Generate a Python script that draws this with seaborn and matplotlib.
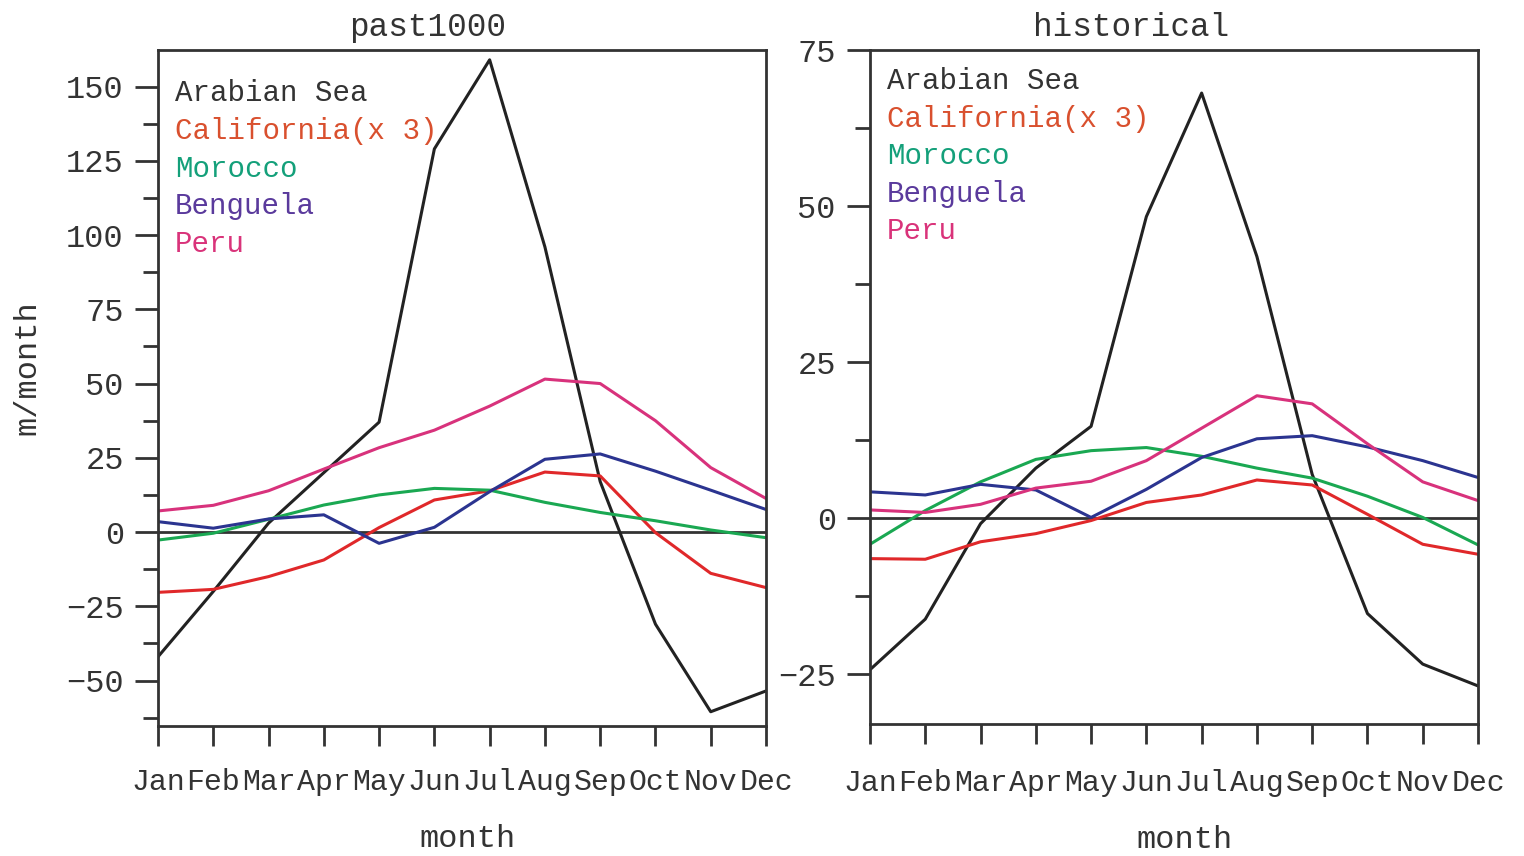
import matplotlib
matplotlib.use("Agg")
import matplotlib.pyplot as plt
import seaborn as sns
import pandas as pd
import numpy as np
from matplotlib.ticker import MultipleLocator

months = ["Jan", "Feb", "Mar", "Apr", "May", "Jun", "Jul", "Aug", "Sep", "Oct", "Nov", "Dec"]
regions = ["Arabian Sea", "California", "Morocco", "Benguela", "Peru"]
legend_labels = ["Arabian Sea", "California(x 3)", "Morocco", "Benguela", "Peru"]

# past1000
p_arabian = [-42, -20, 3, 20, 37, 129, 159, 96, 17, -31, -60.5, -53.5]
p_california = [-20.3, -19.3, -15, -9.4, 1.5, 10.8, 13.9, 20.2, 18.9, -0.2, -13.9, -18.7]
p_morocco = [-2.7, -0.4, 4.3, 9.1, 12.5, 14.7, 14.1, 10, 6.6, 3.8, 0.7, -1.9]
p_benguela = [3.5, 1.3, 4.4, 5.8, -3.8, 1.6, 13.6, 24.5, 26.3, 20.5, 14.1, 7.6]
p_peru = [7.1, 9.0, 13.9, 21.2, 28.4, 34.3, 42.4, 51.5, 50, 37.5, 21.7, 11.3]

# historical
h_arabian = [-24.3, -16.2, -0.9, 8.0, 14.7, 48.3, 68.1, 41.9, 7, -15.3, -23.4, -26.9]
h_california = [-6.5, -6.6, -3.8, -2.5, -0.4, 2.5, 3.7, 6.1, 5.3, 0.6, -4.2, -5.8]
h_morocco = [-4.2, 1.2, 5.8, 9.4, 10.8, 11.3, 9.9, 8.0, 6.4, 3.5, 0.1, -4.3]
h_benguela = [4.2, 3.7, 5.4, 4.5, 0.1, 4.6, 9.7, 12.7, 13.2, 11.4, 9.2, 6.5]
h_peru = [1.3, 0.9, 2.2, 4.8, 5.9, 9.2, 14.4, 19.6, 18.3, 11.9, 5.8, 2.8]

panel_titles = ["past1000", "historical"]
ylims = [(-65.3, 162.3), (-33.0, 75.0)]
yticks_major = [[-50, -25, 0, 25, 50, 75, 100, 125, 150], [-25, 0, 25, 50, 75]]

line_colors = ["#222222", "#e0282a", "#1aa852", "#2b3490", "#d8327c"]
text_colors = ["#333333", "#d9502e", "#14a07a", "#5a3a9c", "#d9337a"]

def make_df(series):
    rows = []
    for reg, vals in zip(regions, series):
        for i, v in enumerate(vals):
            rows.append({"month": i, "value": v, "region": reg})
    return pd.DataFrame(rows)

dfs = [make_df([p_arabian, p_california, p_morocco, p_benguela, p_peru]),
       make_df([h_arabian, h_california, h_morocco, h_benguela, h_peru])]

sns.set_theme(style="white")
plt.rcParams["font.family"] = ["Liberation Mono", "DejaVu Sans Mono"]

fig = plt.figure(figsize=(15.24, 8.56), dpi=100)
axes_pos = [[158/1524, 1-726/856, 608/1524, 676/856],
            [870/1524, 1-724/856, 608/1524, 674/856]]
title_x = [0.444, 0.429]
xlabel_x = [0.51, 0.518]
leg_y0 = [0.936, 0.954]
xtick_pad = [16, 18]
xlabel_pad = [20, 20]

for k in range(2):
    ax = fig.add_axes(axes_pos[k])
    ax.axhline(0, color="#333333", lw=2.0, zorder=1)
    sns.lineplot(data=dfs[k], x="month", y="value", hue="region",
                 hue_order=regions, palette=line_colors, ax=ax,
                 lw=2.2, legend=False, zorder=2)
    ax.set_xlim(0, 11)
    ax.set_ylim(*ylims[k])
    ax.set_xticks(range(12))
    ax.set_xticklabels(months, fontsize=21.5)
    ax.set_yticks(yticks_major[k])
    ax.set_yticklabels([str(t).replace("-", "\u2212") for t in yticks_major[k]], fontsize=23)
    ax.yaxis.set_minor_locator(MultipleLocator(12.5))
    ax.tick_params(axis="y", which="major", direction="out", length=16.5, width=2,
                   color="#333333", left=True, pad=8, labelcolor="#333333")
    ax.tick_params(axis="y", which="minor", direction="out", length=11, width=2,
                   color="#333333", left=True)
    ax.tick_params(axis="x", which="major", direction="out", length=14.5, width=2,
                   color="#333333", bottom=True, pad=xtick_pad[k], labelcolor="#333333")
    for s in ax.spines.values():
        s.set_color("#333333")
        s.set_linewidth(2.0)
    ax.set_xlabel("month", fontsize=23, color="#333333", labelpad=xlabel_pad[k])
    ax.xaxis.label.set_x(xlabel_x[k])
    if k == 0:
        ax.set_ylabel("m/month", fontsize=23, color="#333333", labelpad=16)
        ax.yaxis.set_label_coords(-0.19, 0.53)
    else:
        ax.set_ylabel("")
    ax.set_title(panel_titles[k], fontsize=23.5, color="#333333", x=title_x[k], pad=10)
    for j, lab in enumerate(legend_labels):
        ax.text(0.028, leg_y0[k] - j*0.0558, lab, transform=ax.transAxes,
                color=text_colors[j], fontsize=21, va="center", ha="left")

fig.savefig("out.png", dpi=100)
